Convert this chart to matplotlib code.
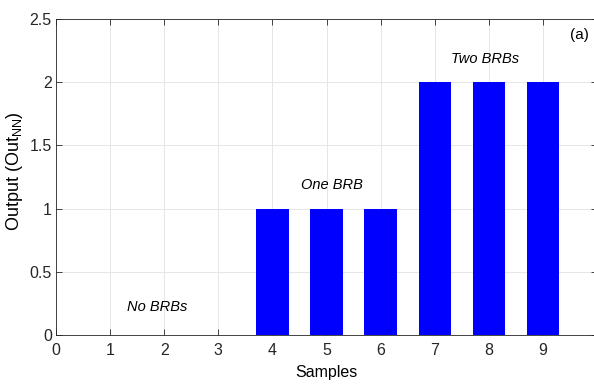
import numpy as np
import matplotlib
matplotlib.use("Agg")
import matplotlib.pyplot as plt

plt.rcParams['font.family'] = ['Liberation Sans', 'DejaVu Sans']

samples = [1, 2, 3, 4, 5, 6, 7, 8, 9]
output = [0, 0, 0, 1, 1, 1, 2, 2, 2]
xticks = np.arange(0, 10)
yticks = [0, 0.5, 1, 1.5, 2, 2.5]
ytick_labels = ['0', '0.5', '1', '1.5', '2', '2.5']

fig = plt.figure(figsize=(5.94, 3.85), dpi=100)
ax = fig.add_axes([0.0943, 0.13, 0.911, 0.8206])

ax.bar(samples, output, width=0.6, color='#0000ff', zorder=3)

ax.set_xlim(0, 10)
ax.set_ylim(0, 2.5)
ax.set_xticks(xticks)
ax.set_yticks(yticks)
ax.set_yticklabels(ytick_labels)
ax.tick_params(direction='in', top=True, right=True, labelsize=11.5, colors='#262626',
               length=4, width=0.6)
ax.tick_params(axis='x', pad=6)
ax.tick_params(axis='y', pad=3)
ax.grid(True, color='#e6e6e6', linewidth=0.7, zorder=0)
for s in ax.spines.values():
    s.set_color('#262626')
    s.set_linewidth(0.6)

ax.set_xlabel('Samples', fontsize=11.5)
ax.xaxis.set_label_coords(0.5, -0.095)
ax.set_ylabel('Output (Out$_{\\mathregular{NN}}$)', fontsize=13)
ax.yaxis.set_label_coords(-0.057, 0.52)

ax.text(1.87, 0.22, 'No BRBs', style='italic', fontsize=10.5, ha='center', va='center')
ax.text(5.1, 1.19, 'One BRB', style='italic', fontsize=10.5, ha='center', va='center')
ax.text(7.93, 2.18, 'Two BRBs', style='italic', fontsize=10.5, ha='center', va='center')
ax.text(9.68, 2.37, '(a)', fontsize=11, ha='center', va='center')

fig.savefig('out.png', dpi=100)
